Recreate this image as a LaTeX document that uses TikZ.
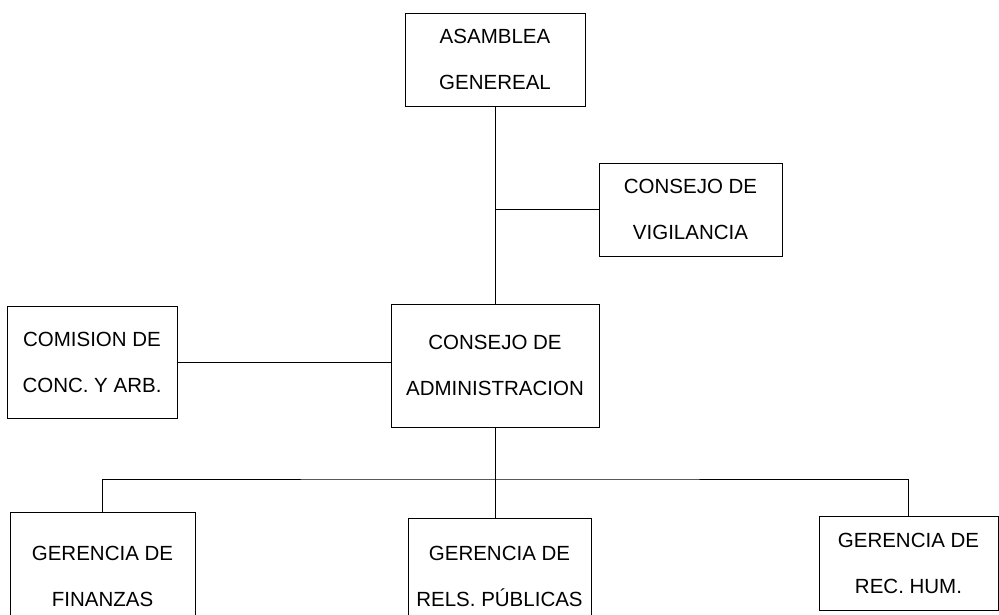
\documentclass[tikz,border=0pt]{standalone}
\usepackage{fontspec}
\setmainfont{Liberation Sans}
\begin{document}
\begin{tikzpicture}[
            x=1pt, y=-1pt, line width=0.9pt,
            box/.style 2 args = {minimum width=#1, minimum height=#2},
            every node/.style = {shape=rectangle, draw=black, inner sep=0pt, align=center, font=\fontsize{20.5}{46}\selectfont}
          ]
          \useasboundingbox (0,0) rectangle (999,615);
          \clip (0,0) rectangle (999,615);
          \node[box={180pt}{93pt}] (asamblea) at (495,59.5) {ASAMBLEA\\GENEREAL};
          \node[box={183pt}{93pt}] (vigilancia) at (690.5,209.5) {CONSEJO DE\\VIGILANCIA};
          \node[box={170pt}{112pt}] (comision) at (92,362) {COMISION DE\\CONC. Y ARB.};
          \node[box={208pt}{123pt}] (admin) at (495,365.5) {CONSEJO DE\\ADMINISTRACION};
          \node[box={185pt}{128pt}] (finanzas) at (102.5,576) {GERENCIA DE\\FINANZAS};
          \node[box={183pt}{116pt}] (relaciones) at (499.5,576) {GERENCIA DE\\RELS. PÚBLICAS};
          \node[box={179pt}{94pt}] (rechum) at (908.5,563) {GERENCIA DE\\REC. HUM.};
          \coordinate (bus) at (495,479);
          \draw (asamblea.south) -- (admin.north);
          \draw (vigilancia.west) -- (asamblea.south |- vigilancia.west);
          \draw (comision.east) -- (admin.west |- comision.east);
          \draw (admin.south) -- (admin.south |- relaciones.north);
          \draw (finanzas.north) |- (bus) -| (rechum.north);
        \end{tikzpicture}
\end{document}
